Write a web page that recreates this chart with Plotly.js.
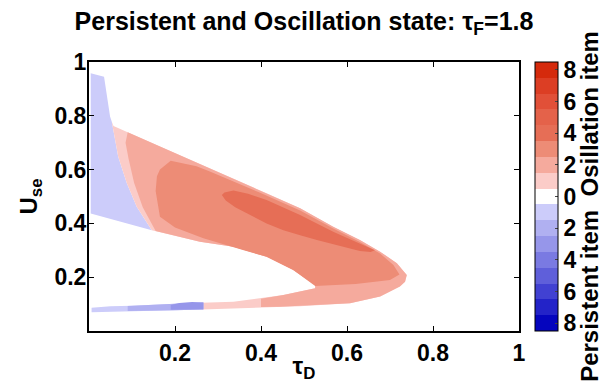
<!DOCTYPE html>
<html><head><meta charset="utf-8">
<script src="https://cdn.plot.ly/plotly-3.0.1.min.js"></script>
<style>html,body{margin:0;padding:0;background:#fff}</style>
</head><body><div id="chart" style="width:602px;height:383px"></div>
<script>
// colour levels (-8 .. 8), persistent items negative, oscillation items positive
const levels = [-8,-7,-6,-5,-4,-3,-2,-1,0,1,2,3,4,5,6,7,8];
const levelColors = [
  'rgb(5,5,190)','rgb(35,35,200)','rgb(65,65,210)','rgb(95,95,218)',
  'rgb(122,122,226)','rgb(150,150,234)','rgb(176,176,241)','rgb(204,204,250)',
  'rgb(255,255,255)',
  'rgb(251,204,200)','rgb(245,170,157)','rgb(237,140,118)','rgb(230,110,86)',
  'rgb(228,98,74)','rgb(225,80,56)','rgb(220,62,36)','rgb(213,42,12)'
];
const cbTickVals = [-8,-6,-4,-2,0,2,4,6,8];
const cbTickText = ['8','6','4','2','0','2','4','6','8'];
const axisTickVals = [0.2,0.4,0.6,0.8,1];
const axisTickText = ['0.2','0.4','0.6','0.8','1'];

// region outlines (tau_D, U_se)
const persistUpperX = [0.004,0.035,0.049,0.053,0.068,0.088,0.111,0.146,0.004];
const persistUpperY = [0.958,0.945,0.797,0.778,0.648,0.549,0.462,0.375,0.437];
const persistUpperLevel = -1;

const oscL1X = [0.053,0.057,0.165,0.281,0.398,0.413,0.491,0.568,0.630,0.677,0.716,0.739,0.735,0.723,0.677,0.607,0.491,0.444,0.35,0.262,0.262,0.336,0.452,0.526,0.526,0.475,0.413,0.336,0.258,0.146,0.111,0.088,0.068,0.053];
const oscL1Y = [0.778,0.762,0.686,0.606,0.524,0.512,0.456,0.388,0.338,0.295,0.252,0.208,0.183,0.165,0.128,0.103,0.092,0.090,0.086,0.080,0.105,0.109,0.134,0.159,0.171,0.227,0.276,0.313,0.332,0.375,0.462,0.549,0.648,0.778];
const oscL1Level = 1;

const oscL2X = [0.090,0.165,0.281,0.398,0.413,0.491,0.568,0.630,0.677,0.716,0.739,0.735,0.723,0.677,0.607,0.491,0.444,0.40,0.40,0.452,0.526,0.526,0.475,0.413,0.336,0.258,0.155,0.125,0.105,0.092,0.085,0.090];
const oscL2Y = [0.739,0.686,0.606,0.524,0.512,0.456,0.388,0.338,0.295,0.252,0.208,0.183,0.165,0.128,0.103,0.092,0.090,0.089,0.120,0.134,0.159,0.171,0.227,0.276,0.313,0.332,0.372,0.460,0.550,0.640,0.700,0.739];
const oscL2Level = 2;

const oscL3X = [0.165,0.190,0.250,0.281,0.398,0.491,0.568,0.630,0.677,0.708,0.722,0.700,0.620,0.526,0.475,0.413,0.360,0.266,0.200,0.165,0.155,0.158];
const oscL3Y = [0.600,0.633,0.612,0.593,0.514,0.448,0.381,0.331,0.288,0.245,0.210,0.190,0.175,0.167,0.227,0.276,0.300,0.345,0.385,0.425,0.520,0.575];
const oscL3Level = 3;

const oscL4X = [0.309,0.315,0.336,0.370,0.413,0.452,0.491,0.530,0.568,0.607,0.646,0.665,0.655,0.630,0.607,0.568,0.530,0.491,0.452,0.413,0.374,0.340,0.318];
const oscL4Y = [0.506,0.515,0.522,0.510,0.487,0.460,0.431,0.400,0.369,0.341,0.313,0.300,0.294,0.297,0.307,0.322,0.338,0.356,0.375,0.400,0.431,0.460,0.485];
const oscL4Level = 4;

const persistStripAX = [0.006,0.05,0.10,0.15,0.20,0.266,0.266,0.20,0.15,0.10,0.05,0.006];
const persistStripAY = [0.070,0.071,0.073,0.075,0.077,0.080,0.106,0.101,0.097,0.094,0.092,0.086];
const persistStripALevel = -1;

const persistStripBX = [0.09,0.15,0.20,0.266,0.266,0.20,0.15,0.09];
const persistStripBY = [0.074,0.075,0.077,0.080,0.106,0.101,0.097,0.093];
const persistStripBLevel = -2;

const persistStripCX = [0.19,0.23,0.266,0.266,0.24,0.21,0.19];
const persistStripCY = [0.079,0.080,0.081,0.106,0.108,0.104,0.097];
const persistStripCLevel = -3;

function colorOf(lv){ return levelColors[levels.indexOf(lv)]; }
function region(x,y,lv){
  return {type:'scatter', mode:'lines', x:x, y:y, fill:'toself',
    fillcolor: colorOf(lv), line:{width:0, color: colorOf(lv)}, hoverinfo:'skip', showlegend:false};
}

// discrete colour scale
const n = levels.length;
const cscale = [];
levels.forEach((lv,i)=>{ cscale.push([i/n, levelColors[i]]); cscale.push([(i+1)/n, levelColors[i]]); });

const FAM = '"Liberation Sans", Arial, sans-serif';
const tickFont = {family:FAM, size:23, color:'#000', weight:'bold'};
const labelFont = {family:FAM, size:24, color:'#000', weight:'bold'};

const traces = [
  region(persistUpperX, persistUpperY, persistUpperLevel),
  region(oscL1X, oscL1Y, oscL1Level),
  region(oscL2X, oscL2Y, oscL2Level),
  region(oscL3X, oscL3Y, oscL3Level),
  region(oscL4X, oscL4Y, oscL4Level),
  region(persistStripAX, persistStripAY, persistStripALevel),
  region(persistStripBX, persistStripBY, persistStripBLevel),
  region(persistStripCX, persistStripCY, persistStripCLevel),
  {type:'scatter', mode:'markers', x:[null], y:[null], hoverinfo:'skip', showlegend:false,
   marker:{color:[0], colorscale:cscale, cmin:-8.5, cmax:8.5, opacity:0, showscale:true,
     colorbar:{x:1.037, xanchor:'left', xpad:0, y:0.5, yanchor:'middle', len:1, lenmode:'fraction', ypad:0,
       thickness:23, thicknessmode:'pixels', outlinewidth:1, outlinecolor:'#000',
       tickmode:'array', tickvals:cbTickVals, ticktext:cbTickText, ticks:'inside', ticklen:3,
       tickfont:tickFont, borderwidth:0}}}
];

const axisCommon = {showgrid:false, zeroline:false, showline:true, linecolor:'#000', linewidth:2,
  mirror:'ticks', ticks:'inside', ticklen:5, tickcolor:'#000', tickwidth:1, tickfont:tickFont,
  range:[0,1], tickmode:'array', tickvals:axisTickVals, ticktext:axisTickText};

const layout = {
  width:602, height:383,
  margin:{l:89, r:83, t:62, b:52},
  paper_bgcolor:'#fff', plot_bgcolor:'#fff',
  title:{text:'Persistent and Oscillation state: τ<sub>F</sub>=1.8', font:{family:FAM, size:25, color:'#000', weight:'bold'},
    x:0.5, xref:'paper', y:0.968, yanchor:'top'},
  xaxis:Object.assign({}, axisCommon, {title:{text:'τ<sub>D</sub>', font:labelFont, standoff:0}}),
  yaxis:Object.assign({}, axisCommon, {ticklabelstandoff:-4, title:{text:'U<sub>se</sub>', font:labelFont, standoff:10}}),
  annotations:[{text:'Persistent item  Osillation item', xref:'paper', yref:'paper', x:1.165, y:0.465,
    xanchor:'center', yanchor:'middle', textangle:-90, showarrow:false, font:{family:FAM, size:24, color:'#000', weight:'bold'}}]
};

Plotly.newPlot('chart', traces, layout, {displayModeBar:false, staticPlot:true});
</script></body></html>
